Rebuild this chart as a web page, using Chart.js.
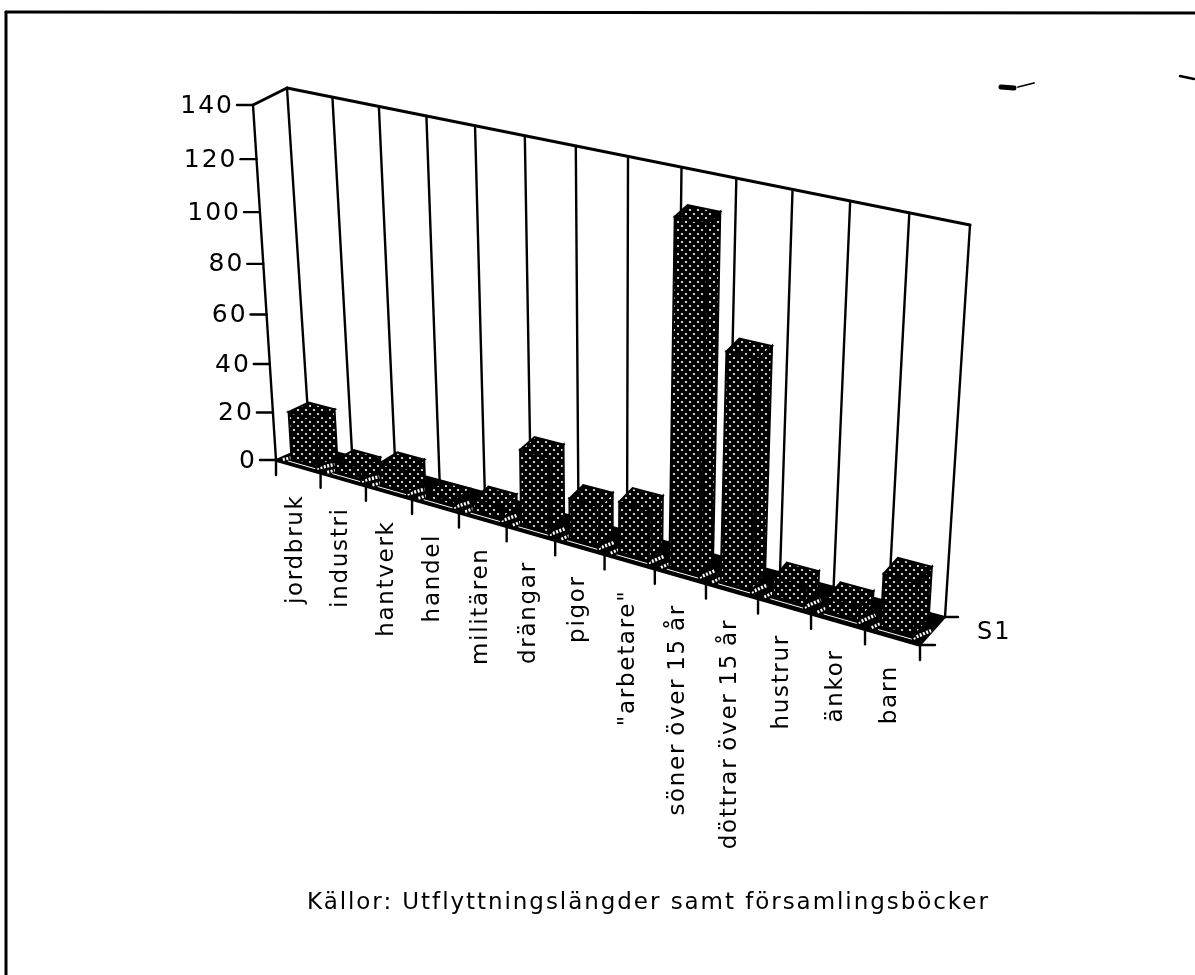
<!DOCTYPE html>
<html><head><meta charset="utf-8">
<style>html,body{margin:0;padding:0;background:#fff}canvas{display:block}</style>
<script src="https://cdn.jsdelivr.net/npm/chart.js@4"></script>
</head><body>
<canvas id="c" width="1195" height="975"></canvas>
<script>
const categories = ['jordbruk','industri','hantverk','handel','militären','drängar','pigor','"arbetare"','söner över 15 år','döttrar över 15 år','hustrur','änkor','barn'];
const values = [20,5,9,2,5,30,16,20,129,86,7,5,20];
const yTicks = [0,20,40,60,80,100,120,140];
const seriesName = 'S1';
const sourceNote = 'Källor: Utflyttningslängder samt församlingsböcker';

// 3D box of the plot, projected on the page
const box = {
  fb:[[276,460],[920,645]], ft:[[253,105],[945,243]],
  bb:[[310,445],[945,617]], bt:[[287,88],[970,225]],
  rFront:1.12, rBack:1.17, rV:1.08
};
const lerp=(a,b,t)=>[a[0]+(b[0]-a[0])*t,a[1]+(b[1]-a[1])*t];
const proj=(t,r)=>t/(t+r*(1-t));
function P(u,v,w){
  const tu=proj(u,box.rFront+(box.rBack-box.rFront)*w), tv=proj(v,box.rV);
  const f=lerp(lerp(box.fb[0],box.fb[1],tu),lerp(box.ft[0],box.ft[1],tu),tv);
  const b=lerp(lerp(box.bb[0],box.bb[1],tu),lerp(box.bt[0],box.bt[1],tu),tv);
  return lerp(f,b,w);
}
function line(ctx,a,b,lw){ctx.lineWidth=lw||2.4;ctx.beginPath();ctx.moveTo(a[0],a[1]);ctx.lineTo(b[0],b[1]);ctx.stroke();}
function poly(ctx,pts,fill){ctx.beginPath();pts.forEach((p,i)=>i?ctx.lineTo(p[0],p[1]):ctx.moveTo(p[0],p[1]));ctx.closePath();ctx.fillStyle=fill;ctx.fill();ctx.strokeStyle='#000';ctx.lineWidth=2;ctx.stroke();}
function dots(){
  const c=document.createElement('canvas');c.width=8;c.height=8;const g=c.getContext('2d');
  g.fillStyle='#000';g.fillRect(0,0,8,8);g.fillStyle='#fff';
  [[2,2],[6,6]].forEach(p=>{g.beginPath();g.arc(p[0],p[1],1.1,0,7);g.fill();});
  return c;
}
const skin={id:'skin',
 beforeDatasetsDraw(chart){
  const ctx=chart.ctx,pat=ctx.createPattern(dots(),'repeat');
  const a=chart.chartArea,W=a.right-a.left,H=a.bottom-a.top,sx=chart.scales.x,sy=chart.scales.y;
  const U=px=>(px-a.left)/W, V=py=>(a.bottom-py)/H;
  ctx.save();
  ctx.fillStyle='#fff';ctx.fillRect(0,0,chart.width,chart.height);
  ctx.strokeStyle='#000';ctx.lineCap='round';
  // page frame
  line(ctx,[6,12],[1195,13],3);line(ctx,[6,12],[6,975],3);
  // walls
  const n=categories.length;
  for(let i=0;i<=n;i++){line(ctx,P(i/n,0,1),P(i/n,1,1));}
  line(ctx,P(0,1,1),P(1,1,1),3);
  line(ctx,P(0,0,0),P(0,1,0));
  line(ctx,P(0,1,0),P(0,1,1),3);
  // floor
  poly(ctx,[P(0,0,0),P(1,0,0),P(1,0,1),P(0,0,1)],'#000');
  line(ctx,P(0,0,0),P(1,0,0),3.4);
  const meta=chart.getDatasetMeta(0);
  // floor marks between bars
  ctx.strokeStyle='#fff';ctx.lineCap='butt';ctx.setLineDash([2,1.5]);
  for(let i=0;i<=n;i++){
    const c=i/n;
    if(i<n)line(ctx,P(c+.006,0,.1),P(c+.012,0,.3),3);
    if(i>0)line(ctx,P(c-.014,0,.14),P(c-.002,0,.5),3.4);
  }
  ctx.setLineDash([]);ctx.lineCap='round';
  ctx.strokeStyle='#000';
  // bars
  meta.data.forEach(el=>{
    const u0=U(el.x-el.width/2),u1=U(el.x+el.width/2),v=V(el.y),w0=.2,w1=.8;
    const fbl=P(u0,0,w0),fbr=P(u1,0,w0),ftl=P(u0,v,w0),ftr=P(u1,v,w0),
          bbr=P(u1,0,w1),btr=P(u1,v,w1),btl=P(u0,v,w1);
    poly(ctx,[fbr,bbr,btr,ftr],pat);
    poly(ctx,[fbl,fbr,ftr,ftl],pat);
    poly(ctx,[ftl,ftr,btr,btl],pat);
    ctx.strokeStyle='#fff';line(ctx,P(u0,0,w0-.1),P(u1,0,w0-.1),1);ctx.strokeStyle='#000';
  });
  // axis ticks
  ctx.fillStyle='#000';
  ctx.textBaseline='middle';
  yTicks.forEach(t=>{
    const p=P(0,V(sy.getPixelForValue(t)),0);
    line(ctx,[p[0]-16,p[1]],p);
    ctx.font='25px "DejaVu Sans"';ctx.letterSpacing='2px';ctx.textAlign='right';
    ctx.fillText(String(t),p[0]-19,p[1]+1);
  });
  for(let i=0;i<=n;i++){const p=P(i/n,0,0);line(ctx,p,[p[0],p[1]+15]);}
  categories.forEach((c,i)=>{
    const p=P(U(sx.getPixelForValue(i)),0,0);
    ctx.save();ctx.translate(p[0]-2,p[1]+28);ctx.rotate(-Math.PI/2);
    ctx.font='23px "DejaVu Sans"';ctx.letterSpacing='1.7px';ctx.wordSpacing='-2px';ctx.textAlign='right';ctx.textBaseline='middle';
    ctx.fillText(c,0,0);ctx.restore();
  });
  const fr=P(1,0,0),br=P(1,0,1);
  line(ctx,fr,[fr[0]+15,fr[1]]);line(ctx,br,[br[0]+13,br[1]]);
  ctx.font='24px "DejaVu Sans"';ctx.letterSpacing='2px';ctx.textAlign='left';
  ctx.fillText(seriesName,fr[0]+57,fr[1]-12);
  ctx.font='23px "DejaVu Sans"';ctx.letterSpacing='1.95px';ctx.textAlign='left';
  ctx.fillText(sourceNote,307,903);
  // scan specks
  line(ctx,[1001,87],[1014,88],5);line(ctx,[1018,87],[1034,83],1.8);line(ctx,[1180,76],[1194,79],2.4);
  ctx.restore();
 }
};
new Chart(document.getElementById('c'),{
  type:'bar',
  data:{labels:categories,datasets:[{label:seriesName,data:values,backgroundColor:'rgba(0,0,0,0)',borderWidth:0,barPercentage:.6,categoryPercentage:1}]},
  options:{responsive:false,animation:false,layout:{padding:0},
    plugins:{legend:{display:false},tooltip:{enabled:false}},
    scales:{x:{display:false},y:{display:false,min:0,max:140,ticks:{stepSize:20}}}},
  plugins:[skin]
});
</script>
</body></html>
